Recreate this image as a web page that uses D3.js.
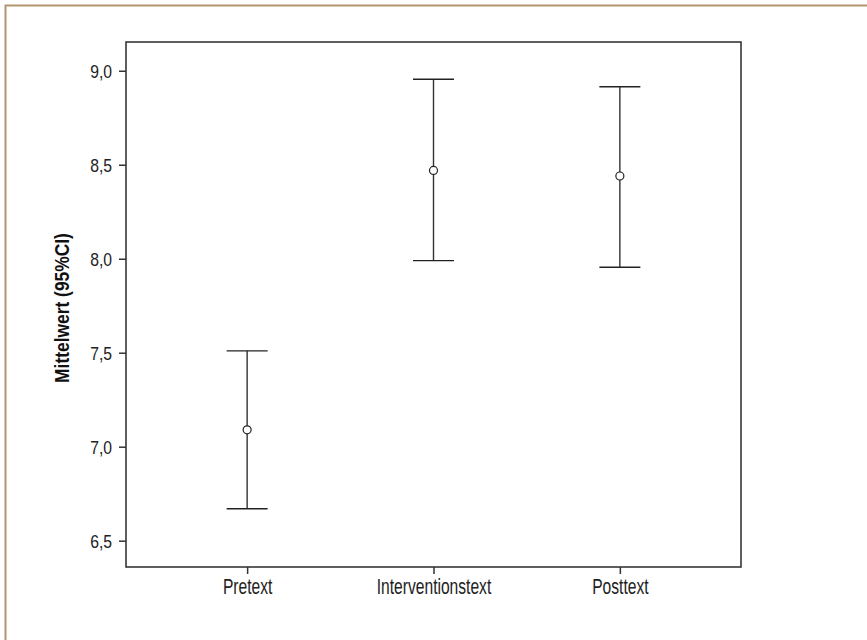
<!DOCTYPE html>
<html><head><meta charset="utf-8">
<script src="https://cdn.jsdelivr.net/npm/d3@7"></script>
<style>
html,body{margin:0;padding:0;background:#fff;}
text{font-family:"Liberation Sans",Arial,sans-serif;}
</style></head>
<body>
<svg id="chart" width="867" height="640"></svg>
<script>
const categories = ["Pretext", "Interventionstext", "Posttext"];
const means = [7.09, 8.47, 8.44];
const lower = [6.67, 7.99, 7.955];
const upper = [7.51, 8.955, 8.915];
const yTicks = [6.5, 7.0, 7.5, 8.0, 8.5, 9.0];
const yTitle = "Mittelwert (95%CI)";

const svg = d3.select("#chart");
// outer frame (top and left edges visible)
svg.append("path").attr("d","M5.5,640 V5.5 H867").attr("fill","none")
  .attr("stroke","#b39670").attr("stroke-width",2);

const L=126, R=741, T=42, B=567;
const x = d3.scalePoint().domain(categories).range([L,R]).padding(0.65);
const y = d3.scaleLinear().domain([6.36, 9.153]).range([B,T]);

// plot box
svg.append("rect").attr("x",L).attr("y",T).attr("width",R-L).attr("height",B-T)
  .attr("fill","none").attr("stroke","#2a2a2a").attr("stroke-width",1.5);

const fmt = d => d.toFixed(1).replace(".", ",");
const yAxis = svg.append("g").attr("transform",`translate(${L},0)`)
  .call(d3.axisLeft(y).tickValues(yTicks).tickFormat(fmt).tickSize(7));
yAxis.select(".domain").remove();
yAxis.selectAll("line").attr("stroke","#333").attr("stroke-width",1.5);
yAxis.selectAll("text").attr("x",null).attr("dy",null).attr("y",6.6)
  .attr("text-anchor","end").attr("font-size",18.5).attr("fill","#222")
  .attr("transform","translate(-14,0) scale(0.85,1)");

const xAxis = svg.append("g").attr("transform",`translate(0,${B})`)
  .call(d3.axisBottom(x).tickSize(7));
xAxis.select(".domain").remove();
xAxis.selectAll("line").attr("stroke","#333").attr("stroke-width",1.5);
xAxis.selectAll("text").attr("y",null).attr("dy",null).attr("x",0)
  .attr("text-anchor","middle").attr("font-size",21.4).attr("fill","#222")
  .attr("transform",`translate(0,${594-B}) scale(0.73,1)`);

svg.append("text").attr("transform",`translate(69,308) rotate(-90) scale(0.87,1)`)
  .attr("text-anchor","middle").attr("font-size",20).attr("font-weight","bold")
  .attr("fill","#111").text(yTitle);

const g = svg.append("g");
const data = categories.map((c,i)=>({c, m:means[i], lo:lower[i], hi:upper[i]}));
const cap = 20.5;
g.selectAll(".stem").data(data).join("line")
  .attr("x1",d=>x(d.c)).attr("x2",d=>x(d.c))
  .attr("y1",d=>y(d.lo)).attr("y2",d=>y(d.hi))
  .attr("stroke","#333").attr("stroke-width",1.4);
g.selectAll(".capH").data(data).join("line")
  .attr("x1",d=>x(d.c)-cap).attr("x2",d=>x(d.c)+cap)
  .attr("y1",d=>y(d.hi)).attr("y2",d=>y(d.hi))
  .attr("stroke","#222").attr("stroke-width",1.4);
g.selectAll(".capL").data(data).join("line")
  .attr("x1",d=>x(d.c)-cap).attr("x2",d=>x(d.c)+cap)
  .attr("y1",d=>y(d.lo)).attr("y2",d=>y(d.lo))
  .attr("stroke","#222").attr("stroke-width",1.4);
g.selectAll("circle").data(data).join("circle")
  .attr("cx",d=>x(d.c)).attr("cy",d=>y(d.m)).attr("r",4)
  .attr("fill","#fff").attr("stroke","#222").attr("stroke-width",1.2);
</script>
</body></html>
